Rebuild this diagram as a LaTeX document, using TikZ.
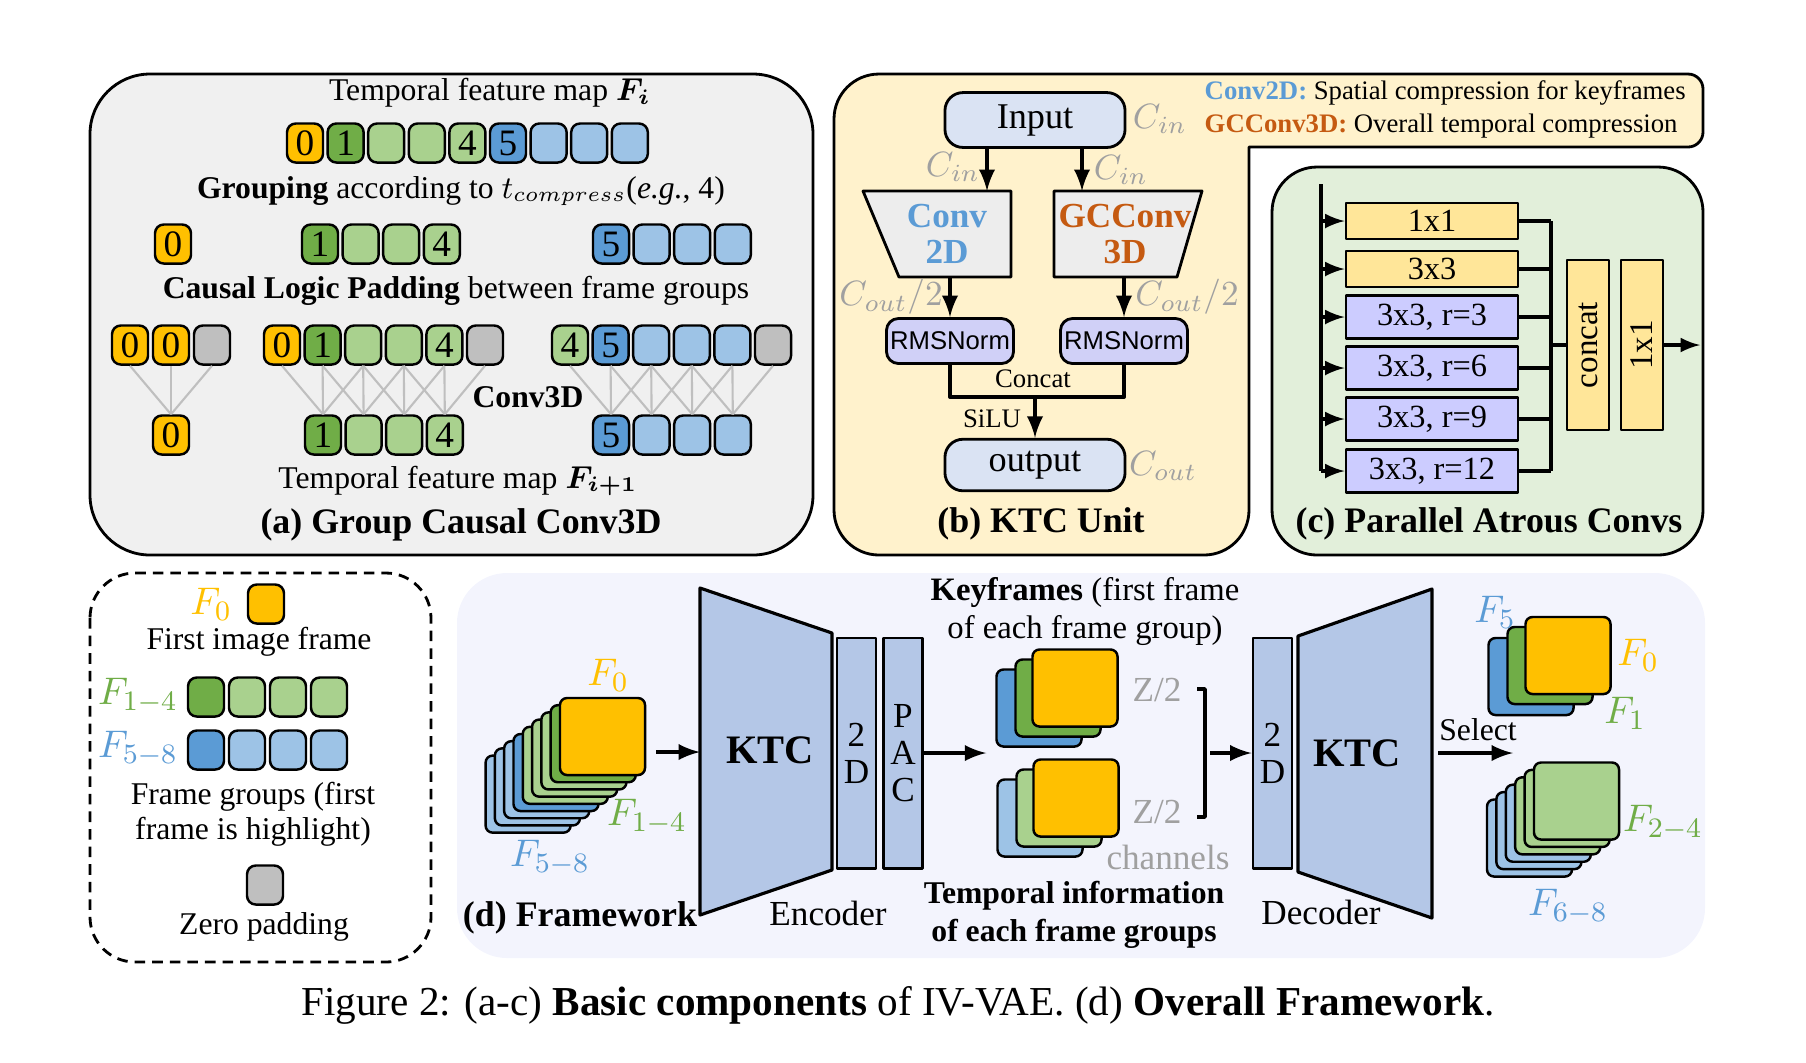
\documentclass[tikz,border=0pt]{standalone}
\usepackage{fontspec}
\setmainfont{Liberation Serif}
\newfontfamily\arialfont{Liberation Sans}
\usepackage{bm}

\definecolor{yel}{HTML}{FFC000}
\definecolor{dgr}{HTML}{70AD47}
\definecolor{lgr}{HTML}{A9D18E}
\definecolor{dbl}{HTML}{5B9BD5}
\definecolor{lbl}{HTML}{9DC3E6}
\definecolor{zer}{HTML}{BFBFBF}
\definecolor{pana}{HTML}{F0F0F0}
\definecolor{panb}{HTML}{FFF2CC}
\definecolor{panc}{HTML}{E2EFDA}
\definecolor{pand}{HTML}{F3F4FD}
\definecolor{ktc}{HTML}{B4C7E7}
\definecolor{io}{HTML}{DAE3F3}
\definecolor{rms}{HTML}{D0D0F7}
\definecolor{trap}{HTML}{EDEDED}
\definecolor{lav}{HTML}{CCCCFF}
\definecolor{lyel}{HTML}{FFE699}
\definecolor{txtgray}{HTML}{A0A0A0}
\definecolor{corange}{HTML}{C55A11}

\newcommand{\fs}[2]{\fontsize{#1}{#2}\selectfont}

\begin{document}
\begin{tikzpicture}[x=0.01cm, y=-0.01cm, line join=round, font=\fs{9}{10.8},
  fb/.style={draw, line width=0.7pt, rounded corners=2.5pt, minimum width=0.36cm,
    minimum height=0.39cm, inner sep=0pt, font=\fs{10.6}{12}},
  card/.style={draw, line width=0.7pt, rounded corners=2pt, minimum width=0.85cm,
    minimum height=0.77cm, inner sep=0pt},
  conv/.style={draw=zer, line width=0.6pt},
  arr/.style={line width=1.1pt, -latex},
  arrs/.style={line width=0.9pt, -latex},
  title/.style={font=\fs{10.2}{12}\bfseries},
  clab/.style={text=txtgray, font=\fs{10.2}{12}},
  gl/.style={text=txtgray, font=\fs{10}{12}},
  flab/.style={font=\fs{11}{13}},
  iobox/.style={draw, line width=0.8pt, fill=io, rounded corners=0.18cm, minimum width=1.8cm,
    minimum height=0.51cm, font=\fs{10.3}{12}},
  rmsbox/.style={draw, line width=0.8pt, fill=rms, rounded corners=0.12cm, minimum width=1.27cm,
    minimum height=0.45cm, inner sep=1pt, font=\arialfont\fs{7.3}{9}},
  trapz/.style={draw, line width=0.8pt, fill=trap},
  abox/.style={draw, line width=0.8pt, minimum width=1.72cm, inner sep=0pt, font=\fs{9.2}{11}},
  rbox/.style={draw, line width=0.8pt, fill=lyel, rotate=90, minimum width=1.7cm,
    minimum height=0.42cm, inner sep=0pt, font=\fs{9.4}{11}},
  ktcshape/.style={draw, line width=0.9pt, fill=ktc},
  bar/.style={draw, line width=0.8pt, fill=ktc, minimum width=0.39cm, minimum height=2.3cm,
    align=center, inner sep=0pt, font=\fs{10}{10.6}}]
  \useasboundingbox (0,0) rectangle (1806,1062);

  % panels
  \draw[line width=0.8pt, fill=pana, rounded corners=0.6cm] (90,74) rectangle (813,555);
  \draw[line width=0.8pt, fill=panb] (834,300) [rounded corners=0.45cm] -- (834,74)
    [rounded corners=0.15cm] -- (1703,74) -- (1703,147) [sharp corners] -- (1249,147)
    [rounded corners=0.45cm] -- (1249,555) -- (834,555) -- cycle;
  \draw[line width=0.8pt, fill=panc, rounded corners=0.45cm] (1272,167) rectangle (1703,555);
  \draw[line width=0.8pt, dash pattern=on 3pt off 2pt, rounded corners=0.45cm] (90,573) rectangle (431,962);
  \fill[pand, rounded corners=0.5cm] (457,573) rectangle (1705,958);

  % (a) Group Causal Conv3D
  \node (ttop) at (490,93) {Temporal feature map $\bm{F_i}$};
  \foreach \col/\t [count=\i] in {yel/0, dgr/1, lgr/, lgr/, lgr/4, dbl/5, lbl/, lbl/, lbl/}
    \node[fb, fill=\col] (top\i) at ({305+(\i-1)*40.6},143) {\t};
  \node (tgrp) at (461,191) {\textbf{Grouping} according to $t_{compress}$(\textit{e.g.}, 4)};

  \node[fb, fill=yel] (g0) at (173,244) {0};
  \foreach \col/\t [count=\i] in {dgr/1, lgr/, lgr/, lgr/4}
    \node[fb, fill=\col] (ga\i) at ({320+(\i-1)*40.6},244) {\t};
  \foreach \col/\t [count=\i] in {dbl/5, lbl/, lbl/, lbl/}
    \node[fb, fill=\col] (gb\i) at ({611+(\i-1)*40.6},244) {\t};
  \node (tpad) at (456,291) {\textbf{Causal Logic Padding} between frame groups};

  \foreach \col/\t [count=\i] in {yel/0, yel/0, zer/}
    \node[fb, fill=\col] (pa\i) at ({130+(\i-1)*41},345) {\t};
  \foreach \col/\t [count=\i] in {yel/0, dgr/1, lgr/, lgr/, lgr/4, zer/}
    \node[fb, fill=\col] (pb\i) at ({282+(\i-1)*40.6},345) {\t};
  \foreach \col/\t [count=\i] in {lgr/4, dbl/5, lbl/, lbl/, lbl/, zer/}
    \node[fb, fill=\col] (pc\i) at ({570+(\i-1)*40.6},345) {\t};

  \node[fb, fill=yel] (oa) at (171,435) {0};
  \foreach \col/\t [count=\i] in {dgr/1, lgr/, lgr/, lgr/4}
    \node[fb, fill=\col] (ob\i) at ({323+(\i-1)*40.6},435) {\t};
  \foreach \col/\t [count=\i] in {dbl/5, lbl/, lbl/, lbl/}
    \node[fb, fill=\col] (oc\i) at ({611+(\i-1)*40.6},435) {\t};

  \foreach \k in {1,2,3}
    \draw[conv] (pa\k.south) -- (oa.north);
  \foreach \j in {1,...,4}
    \foreach \k in {0,1,2} {
      \pgfmathtruncatemacro\m{\j+\k}
      \draw[conv] (pb\m.south) -- (ob\j.north);
      \draw[conv] (pc\m.south) -- (oc\j.north);
    }
  \node (tc3d) at (528,397) {\textbf{Conv3D}};
  \node (tbot) at (458,481) {Temporal feature map $\bm{F_{i+1}}$};
  \node[title] (ta) at (461,525) {(a) Group Causal Conv3D};

  % (b) KTC Unit
  \node[anchor=west, inner sep=0pt, font=\fs{7.6}{9}] (lg1) at (1204,93)
    {\textcolor{dbl}{\textbf{Conv2D:}} Spatial compression for keyframes};
  \node[anchor=west, inner sep=0pt, font=\fs{7.6}{9}] (lg2) at (1204,126)
    {\textcolor{corange}{\textbf{GCConv3D:}} Overall temporal compression};

  \node[iobox] (in) at (1035,120) {Input};
  \node[clab] (cin0) at (1160,119) {$C_{in}$};
  \draw[trapz] (863,191) -- (1011,191) -- (1011,277) -- (899,277) -- cycle;
  \draw[trapz] (1054,191) -- (1202,191) -- (1177,277) -- (1054,277) -- cycle;
  \node[align=center, text=dbl, font=\fs{10}{10.2}\bfseries] (c2d) at (947,234) {Conv\\2D};
  \node[align=center, text=corange, font=\fs{10}{10.2}\bfseries] (c3d) at (1125,234) {GCConv\\3D};
  \coordinate (c2t) at (987,191);
  \coordinate (c3t) at (1082,191);
  \coordinate (c2b) at (950,277);
  \coordinate (c3b) at (1124,277);
  \draw[arr] (in.south -| c2t) -- (c2t);
  \draw[arr] (in.south -| c3t) -- (c3t);
  \node[clab] (cin1) at (953,167) {$C_{in}$};
  \node[clab] (cin2) at (1121,170) {$C_{in}$};

  \node[rmsbox] (rm1) at (950,341) {RMSNorm};
  \node[rmsbox] (rm2) at (1124,341) {RMSNorm};
  \draw[arr] (c2b) -- (rm1.north);
  \draw[arr] (c3b) -- (rm2.north);
  \node[clab] (co1) at (891,297) {$C_{out}/2$};
  \node[clab] (co2) at (1187,297) {$C_{out}/2$};

  \coordinate (cat) at (1035,397);
  \draw[line width=1.1pt] (rm1.south) -- (rm1.south |- cat) -- (rm2.south |- cat) -- (rm2.south);
  \node[font=\fs{7.6}{9}] (tcat) at (1033,379) {Concat};
  \node[iobox] (out) at (1035,465) {output};
  \draw[arr] (cat) -- (out.north);
  \node[font=\fs{7.6}{9}] (tsilu) at (992,419) {SiLU};
  \node[clab] (cout) at (1163,466) {$C_{out}$};
  \node[title] (tb) at (1041,524) {(b) KTC Unit};

  % (c) Parallel Atrous Convs
  \foreach \t/\col/\y/\h [count=\i] in {1x1/lyel/221/0.36, 3x3/lyel/269/0.36,
      {3x3, r=3}/lav/317/0.43, {3x3, r=6}/lav/368/0.43, {3x3, r=9}/lav/419/0.43,
      {3x3, r=12}/lav/471/0.43}
    \node[abox, fill=\col, minimum height=\h cm] (ab\i) at (1432,\y) {\t};
  \coordinate (bus) at (1321,184);
  \coordinate (col) at (1551,221);
  \draw[line width=0.9pt] (bus) -- (bus |- ab6.west);
  \foreach \i in {1,...,6} {
    \draw[arrs] (bus |- ab\i.west) -- (ab\i.west);
    \draw[line width=0.9pt] (ab\i.east) -- (col |- ab\i.east);
  }
  \draw[line width=0.9pt] (col |- ab1.east) -- (col |- ab6.east);
  \node[rbox] (cc) at (1588,345) {concat};
  \node[rbox] (c11) at (1642,345) {1x1};
  \draw[line width=0.9pt] (col |- cc.center) -- (cc.north);
  \coordinate (cend) at (1700,345);
  \draw[arrs] (c11.south) -- (cend);
  \node[title] (tc) at (1489,524) {(c) Parallel Atrous Convs};

  % legend
  \node[flab, text=yel] (lf0) at (211,604) {$F_0$};
  \node[fb, fill=yel] (lb0) at (266,604) {};
  \node (lt0) at (259,642) {First image frame};
  \node[flab, text=dgr] (lf1) at (138,696) {$F_{1-4}$};
  \foreach \col [count=\i] in {dgr,lgr,lgr,lgr}
    \node[fb, fill=\col] (lg\i) at ({206+(\i-1)*41},697) {};
  \node[flab, text=dbl] (lf5) at (138,749) {$F_{5-8}$};
  \foreach \col [count=\i] in {dbl,lbl,lbl,lbl}
    \node[fb, fill=\col] (lbb\i) at ({206+(\i-1)*41},750) {};
  \node[align=center, font=\fs{9}{10}] (lt1) at (253,814) {Frame groups (first\\frame is highlight)};
  \node[fb, fill=zer] (lz) at (265,885) {};
  \node (lt2) at (264,927) {Zero padding};

  % (d) Framework
  \foreach \col [count=\i] in {lbl,lbl,lbl,dbl,lgr,lgr,lgr,dgr,yel}
    \node[card, fill=\col] (f\i) at ({602.5-(9-\i)*9.3},{736.5+(9-\i)*7.2}) {};
  \node[flab, text=yel] (ff0) at (608,675) {$F_0$};
  \node[flab, text=dgr] (ff1) at (647,817) {$F_{1-4}$};
  \node[flab, text=dbl] (ff5) at (550,858) {$F_{5-8}$};

  \draw[ktcshape] (700,588) -- (832,633) -- (832,870) -- (700,915) -- cycle;
  \node[font=\fs{11.5}{12}\bfseries] (ektc) at (770,750) {KTC};
  \node[bar] (e2d) at (856.5,753) {2\\D};
  \node[bar] (epac) at (903,753) {P\\A\\C};
  \node[font=\fs{10}{12}] (tenc) at (828,913) {Encoder};
  \node[title] (td) at (580,918) {(d) Framework};
  \coordinate (encin) at (700,752);
  \draw[arr, shorten <=0.1cm] (f9.east |- encin) -- (encin);

  \foreach \col/\x/\y [count=\i] in {dbl/1039/708, dgr/1058/698, yel/1075/688}
    \node[card, fill=\col] (k\i) at (\x,\y) {};
  \foreach \col/\x/\y [count=\i] in {lbl/1040/818, lgr/1059/808, yel/1076/798}
    \node[card, fill=\col] (t\i) at (\x,\y) {};
  \draw[arr, shorten >=0.09cm] (epac.east) -- (epac.east -| k1.west);
  \node[align=center, font=\fs{9.3}{10.8}] (tkey) at (1085,611) {\textbf{Keyframes} (first frame\\of each frame group)};
  \node[align=center, font=\fs{9}{10.8}\bfseries] (ttmp) at (1074,915) {Temporal information\\of each frame groups};
  \node[gl] (z1) at (1157,690) {Z/2};
  \node[gl] (z2) at (1157,812) {Z/2};
  \node[gl] (tch) at (1168,857) {channels};
  \draw[line width=1pt] (1197,689) -- (1205,689) -- (1205,817) -- (1197,817);
  \coordinate (br) at (1205,753);

  \node[bar] (d2d) at (1272.5,753) {2\\D};
  \draw[arr, shorten <=0.05cm] (br) -- (d2d.west);
  \draw[ktcshape] (1298,636) -- (1432,589) -- (1432,918) -- (1298,872) -- cycle;
  \node[font=\fs{11.5}{12}\bfseries] (dktc) at (1357,753) {KTC};
  \node[font=\fs{10}{12}] (tdec) at (1321,912) {Decoder};
  \coordinate (decout) at (1432,753);
  \coordinate (sel) at (1513,753);
  \draw[arr, shorten <=0.06cm] (decout) -- (sel);
  \node (tsel) at (1478,730) {Select};

  \foreach \col/\x/\y [count=\i] in {dbl/1531/676.5, dgr/1550/665.5, yel/1568/655.5}
    \node[card, fill=\col] (r\i) at (\x,\y) {};
  \foreach \col [count=\i] in {lbl,lbl,lbl,lgr,lgr,lgr}
    \node[card, fill=\col] (s\i) at ({1576.5-(6-\i)*9.4},{801+(6-\i)*7.4}) {};
  \node[flab, text=dbl] (rf5) at (1495,612) {$F_5$};
  \node[flab, text=yel] (rf0) at (1638,655) {$F_0$};
  \node[flab, text=dgr] (rf1) at (1625,713) {$F_1$};
  \node[flab, text=dgr] (rf2) at (1663,823) {$F_{2-4}$};
  \node[flab, text=dbl] (rf6) at (1568,907) {$F_{6-8}$};

  % caption
  \node[font=\fs{11.7}{13}] (cap) at (898,1005) {Figure 2: (a-c) \textbf{Basic components} of IV-VAE. (d) \textbf{Overall Framework}.};
\end{tikzpicture}
\end{document}
